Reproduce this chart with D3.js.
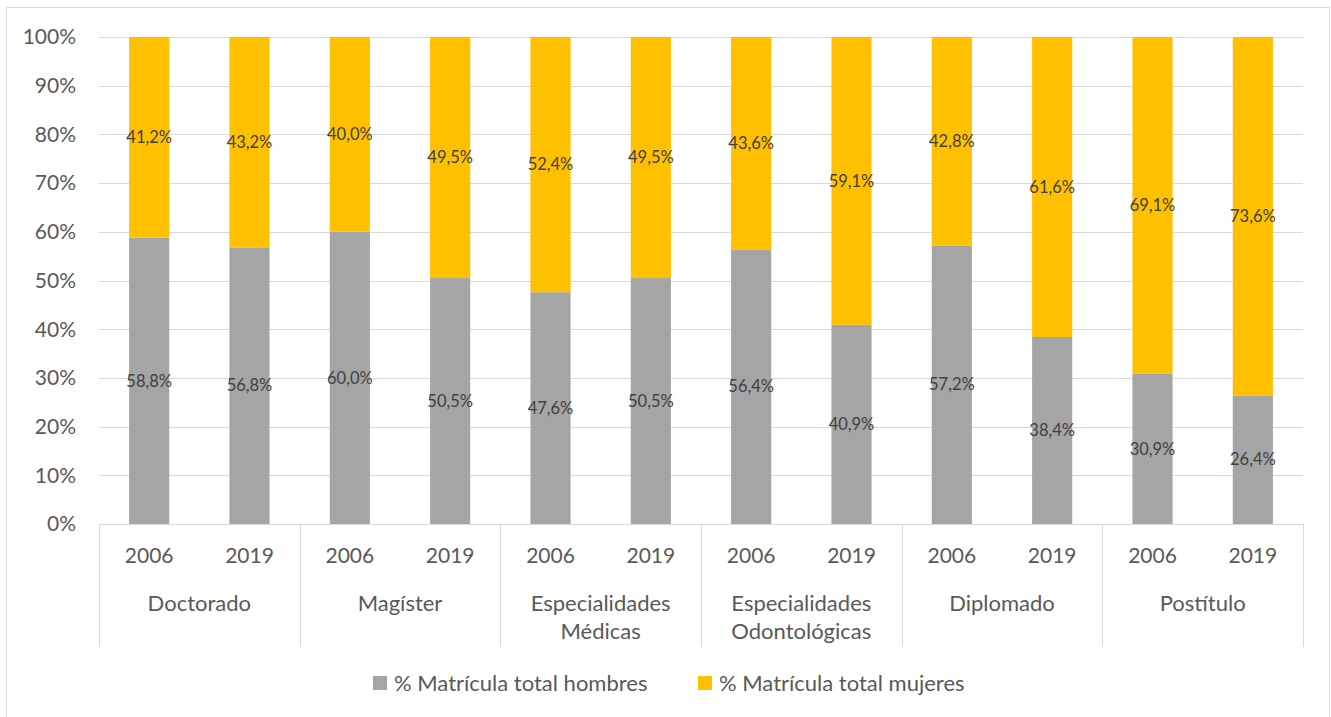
<!DOCTYPE html>
<html lang="es">
<head>
    <meta charset="UTF-8">
    <title>Matrícula por sexo</title>
    <script src="https://d3js.org/d3.v7.min.js"></script>
    <style>
        body {
            margin: 0;
            background: white;
            font-family: Lato, "Open Sans", Arial, sans-serif;
        }
        svg text { fill: #595959; }
    </style>
</head>
<body>
    <div id="chart"></div>
    <script>
        // data
        const programs = ["Doctorado", "Magíster", "Especialidades Médicas", "Especialidades Odontológicas", "Diplomado", "Postítulo"];
        const years = ["2006", "2019"];
        const hombres = [58.8, 56.8, 60.0, 50.5, 47.6, 50.5, 56.4, 40.9, 57.2, 38.4, 30.9, 26.4];
        const mujeres = [41.2, 43.2, 40.0, 49.5, 52.4, 49.5, 43.6, 59.1, 42.8, 61.6, 69.1, 73.6];
        const seriesNames = ["% Matrícula total hombres", "% Matrícula total mujeres"];
        const yTicks = [0, 10, 20, 30, 40, 50, 60, 70, 80, 90, 100];

        const width = 1331, height = 717;
        const colors = ["#A5A5A5", "#FFC000"];
        const fmt = v => v.toFixed(1).replace(".", ",") + "%";

        const rows = [];
        programs.forEach((p, i) => years.forEach((yr, j) => {
            const k = i * 2 + j;
            rows.push({ program: p, year: yr, h: hombres[k], m: mujeres[k] });
        }));

        const svg = d3.select("#chart").append("svg")
            .attr("width", width)
            .attr("height", height);

        // outer chart border
        svg.append("rect")
            .attr("x", 6.5).attr("y", 7.5)
            .attr("width", 1323).attr("height", 720)
            .attr("fill", "none")
            .attr("stroke", "#D9D9D9");

        const x0 = d3.scaleBand().domain(programs).range([99, 1303]);
        const x1 = d3.scaleBand().domain(years).range([0, x0.bandwidth()])
            .paddingInner(0.6).paddingOuter(0.3);
        const y = d3.scaleLinear().domain([0, 100]).range([524, 37]);

        // gridlines
        svg.append("g").selectAll("line")
            .data(yTicks.slice(1))
            .join("line")
            .attr("x1", 99).attr("x2", 1303)
            .attr("y1", d => Math.round(y(d)) + 0.5)
            .attr("y2", d => Math.round(y(d)) + 0.5)
            .attr("stroke", "#D9D9D9");

        // y tick labels
        svg.append("g").selectAll("text")
            .data(yTicks)
            .join("text")
            .attr("x", 76)
            .attr("y", d => y(d))
            .attr("dy", "0.35em")
            .attr("text-anchor", "end")
            .style("font-size", "21px")
            .text(d => d + "%");

        // stacked bars
        const bars = svg.append("g").selectAll("g")
            .data(rows)
            .join("g")
            .attr("transform", d => `translate(${x0(d.program) + x1(d.year)},0)`);

        bars.append("rect")
            .attr("y", d => y(d.h))
            .attr("height", d => y(0) - y(d.h))
            .attr("width", x1.bandwidth())
            .attr("fill", colors[0]);
        bars.append("rect")
            .attr("y", d => y(d.h + d.m))
            .attr("height", d => y(d.h) - y(d.h + d.m))
            .attr("width", x1.bandwidth())
            .attr("fill", colors[1]);

        bars.append("text")
            .attr("x", x1.bandwidth() / 2)
            .attr("y", d => y(d.h / 2))
            .attr("dy", "0.35em")
            .attr("text-anchor", "middle")
            .style("font-size", "16.5px")
            .style("fill", "#404040")
            .text(d => fmt(d.h));
        bars.append("text")
            .attr("x", x1.bandwidth() / 2)
            .attr("y", d => y(d.h + d.m / 2))
            .attr("dy", "0.35em")
            .attr("text-anchor", "middle")
            .style("font-size", "16.5px")
            .style("fill", "#404040")
            .text(d => fmt(d.m));

        // category axis
        const axis = svg.append("g");
        axis.append("line")
            .attr("x1", 99).attr("x2", 1303)
            .attr("y1", 524.5).attr("y2", 524.5)
            .attr("stroke", "#D9D9D9");
        const bounds = programs.map(p => x0(p)).concat([x0.range()[1]]);
        axis.selectAll("line.sep")
            .data(bounds)
            .join("line")
            .attr("class", "sep")
            .attr("x1", d => Math.round(d) + 0.5).attr("x2", d => Math.round(d) + 0.5)
            .attr("y1", 524).attr("y2", 647)
            .attr("stroke", "#D9D9D9");

        axis.selectAll("text.year")
            .data(rows)
            .join("text")
            .attr("class", "year")
            .attr("x", d => x0(d.program) + x1(d.year) + x1.bandwidth() / 2)
            .attr("y", 556)
            .attr("dy", "0.35em")
            .attr("text-anchor", "middle")
            .style("font-size", "21px")
            .text(d => d.year);

        const groupLabels = axis.selectAll("text.group")
            .data(programs)
            .join("text")
            .attr("class", "group")
            .attr("text-anchor", "middle")
            .style("font-size", "22px");
        groupLabels.each(function(p) {
            const words = p.split(" ");
            const t = d3.select(this);
            words.forEach((w, i) => {
                t.append("tspan")
                    .attr("x", x0(p) + x0.bandwidth() / 2)
                    .attr("y", 603 + i * 28)
                    .attr("dy", "0.35em")
                    .text(w);
            });
        });

        // legend
        const legend = svg.append("g");
        const legendX = [373, 698];
        seriesNames.forEach((name, i) => {
            legend.append("rect")
                .attr("x", legendX[i]).attr("y", 676)
                .attr("width", 14).attr("height", 14)
                .attr("fill", colors[i]);
            legend.append("text")
                .attr("x", legendX[i] + 21)
                .attr("y", 683)
                .attr("dy", "0.35em")
                .style("font-size", "22px")
                .text(name);
        });
    </script>
</body>
</html>
